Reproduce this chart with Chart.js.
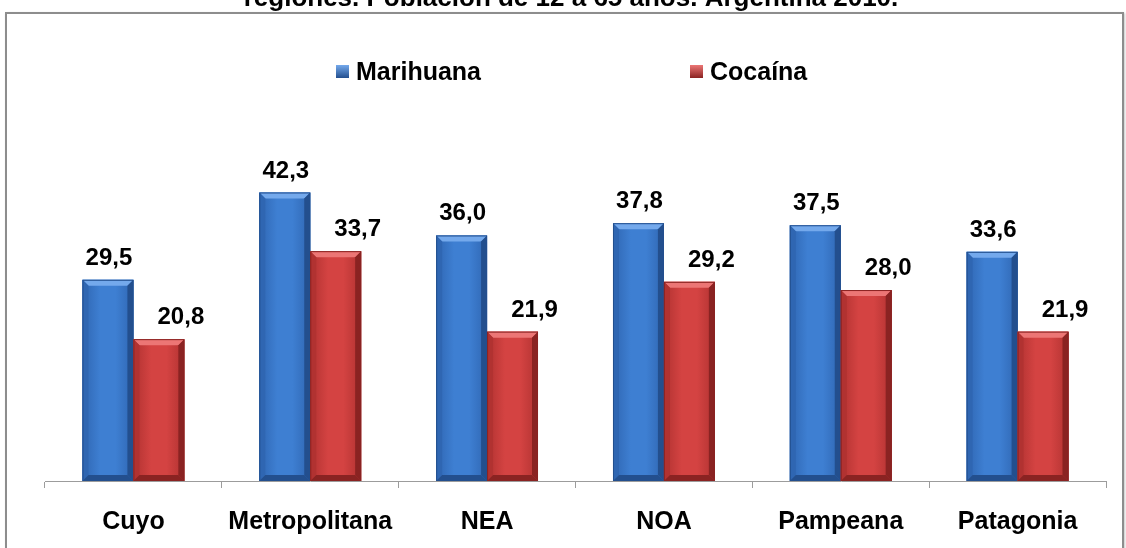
<!DOCTYPE html>
<html>
<head>
<meta charset="utf-8">
<script src="https://cdn.jsdelivr.net/npm/chart.js@4.4.1/dist/chart.umd.min.js"></script>
<style>
  html, body { margin: 0; padding: 0; background: #fff; overflow: hidden; }
  #wrap { position: relative; width: 1126px; height: 548px; }
  #frame {
    position: absolute; left: 5px; top: 12px; width: 1115px; height: 600px;
    border: 2px solid #8d8d8d; box-shadow: 1px 1px 2px #c8c8c8;
  }
  #c { position: absolute; left: 0; top: 0; }
</style>
</head>
<body>
<div id="wrap">
  <div id="frame"></div>
  <canvas id="c" width="1126" height="548"></canvas>
</div>
<script>
// datos
var regiones = ["Cuyo", "Metropolitana", "NEA", "NOA", "Pampeana", "Patagonia"];
var marihuana = [29.5, 42.3, 36.0, 37.8, 37.5, 33.6];
var cocaina = [20.8, 33.7, 21.9, 29.2, 28.0, 21.9];
var series = ["Marihuana", "Cocaína"];
var titulo = "regiones. Población de 12 a 65 años. Argentina 2010.";

var FONT = "'Liberation Sans', Arial, sans-serif";

var tonos = [
  { cara: "#3e7fd2", luz: "#74a9ec", lado: "#2f66b2", sombra: "#234f8e" },
  { cara: "#d44342", luz: "#ec7675", lado: "#b13231", sombra: "#8a2322" }
];

function fmt(v) {
  return v.toFixed(1).replace(".", ",");
}

function caraGradiente(ctx, l, r, t) {
  var g = ctx.createLinearGradient(l, 0, r, 0);
  g.addColorStop(0, t.lado);
  g.addColorStop(0.35, t.cara);
  g.addColorStop(0.65, t.cara);
  g.addColorStop(1, t.lado);
  return g;
}

function poly(ctx, pts, color) {
  ctx.beginPath();
  ctx.moveTo(pts[0][0], pts[0][1]);
  for (var i = 1; i < pts.length; i++) ctx.lineTo(pts[i][0], pts[i][1]);
  ctx.closePath();
  ctx.fillStyle = color;
  ctx.fill();
}

// biselado de las barras, sobre las posiciones que calcula Chart.js
var bisel = {
  id: "bisel",
  afterDatasetsDraw: function (chart) {
    var ctx = chart.ctx;
    ctx.save();
    chart.data.datasets.forEach(function (ds, di) {
      var t = tonos[di];
      chart.getDatasetMeta(di).data.forEach(function (bar) {
        var p = bar.getProps(["x", "y", "base", "width"], true);
        var l = p.x - p.width / 2, r = p.x + p.width / 2;
        var top = p.y, bot = p.base;
        var b = 6;
        ctx.fillStyle = caraGradiente(ctx, l, r, t);
        ctx.fillRect(l, top, r - l, bot - top);
        poly(ctx, [[l, top], [r, top], [r - b, top + b], [l + b, top + b]], t.luz);
        poly(ctx, [[l, top], [l + b, top + b], [l + b, bot - b], [l, bot]], t.lado);
        poly(ctx, [[r, top], [r - b, top + b], [r - b, bot - b], [r, bot]], t.sombra);
        poly(ctx, [[l, bot], [l + b, bot - b], [r - b, bot - b], [r, bot]], t.sombra);
        ctx.strokeStyle = t.sombra;
        ctx.lineWidth = 1;
        ctx.strokeRect(l + 0.5, top + 0.5, r - l - 1, bot - top - 1);
      });
    });
    ctx.restore();
  }
};

// valores, título cortado y leyenda
var textos = {
  id: "textos",
  afterDraw: function (chart) {
    var ctx = chart.ctx;
    ctx.save();
    ctx.fillStyle = "#000";
    ctx.textBaseline = "alphabetic";

    ctx.font = "bold 24px " + FONT;
    ctx.textAlign = "center";
    chart.data.datasets.forEach(function (ds, di) {
      var dx = di === 0 ? 1 : 22;
      chart.getDatasetMeta(di).data.forEach(function (bar, i) {
        var p = bar.getProps(["x", "y"], true);
        ctx.fillText(fmt(ds.data[i]), p.x + dx, p.y - 15);
      });
    });

    ctx.font = "bold 26px " + FONT;
    ctx.fillText(titulo, 571, 6);

    ctx.font = "bold 25px " + FONT;
    ctx.textAlign = "left";
    var lx = [336, 690];
    chart.data.datasets.forEach(function (ds, di) {
      var t = tonos[di];
      var x = lx[di];
      var g = ctx.createLinearGradient(0, 65, 0, 78);
      g.addColorStop(0, t.luz);
      g.addColorStop(1, t.sombra);
      ctx.fillStyle = g;
      ctx.fillRect(x, 65, 13, 13);
      ctx.fillStyle = "#000";
      ctx.fillText(ds.label, x + 20, 80);
    });
    ctx.restore();
  }
};

new Chart(document.getElementById("c"), {
  type: "bar",
  data: {
    labels: regiones,
    datasets: [
      { label: series[0], data: marihuana, backgroundColor: tonos[0].cara, borderWidth: 0 },
      { label: series[1], data: cocaina, backgroundColor: tonos[1].cara, borderWidth: 0 }
    ]
  },
  options: {
    responsive: false,
    animation: false,
    devicePixelRatio: 1,
    categoryPercentage: 0.576,
    barPercentage: 1,
    layout: { padding: { top: 140, left: 45, right: 20, bottom: 0 } },
    plugins: {
      legend: { display: false },
      title: { display: false },
      tooltip: { enabled: false }
    },
    scales: {
      x: {
        offset: true,
        afterFit: function (scale) { scale.height = 67; },
        grid: {
          offset: true,
          drawOnChartArea: false,
          drawTicks: true,
          tickLength: 7,
          color: "#9c9c9c"
        },
        border: { color: "#9c9c9c", width: 1 },
        ticks: {
          color: "#000",
          padding: 19,
          font: { family: FONT, weight: "bold", size: 25 }
        }
      },
      y: { display: false, min: 0, max: 50 }
    }
  },
  plugins: [bisel, textos]
});
</script>
</body>
</html>
